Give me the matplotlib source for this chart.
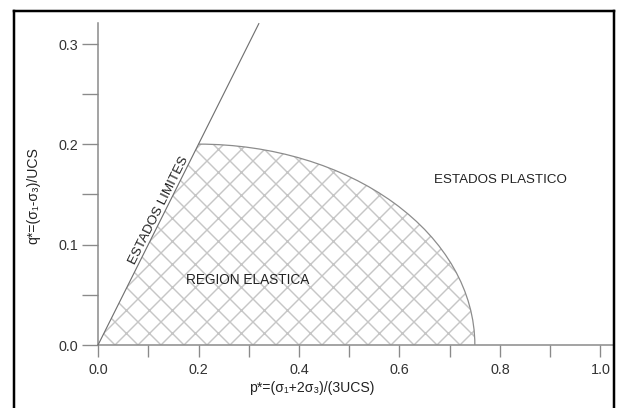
import numpy as np
import matplotlib
matplotlib.use("Agg")
import matplotlib.pyplot as plt
from matplotlib.path import Path
from matplotlib.patches import PathPatch, Arc
from matplotlib.lines import Line2D
from matplotlib.transforms import Affine2D

plt.rcParams['font.family'] = ['Liberation Sans', 'DejaVu Sans']
plt.rcParams['hatch.linewidth'] = 0.75

# failure line q* = p*, drawn from the origin up to the top of the plot
limit_p = [0.0, 0.32]
limit_q = [0.0, 0.32]

# elliptical cap of the elastic region (quarter ellipse)
cap_center = (0.2, 0.0)
cap_a = 0.55   # half width along p*
cap_b = 0.2    # half height along q*

x_major = [0.0, 0.2, 0.4, 0.6, 0.8, 1.0]
x_minor = [0.1, 0.3, 0.5, 0.7, 0.9]
y_major = [0.0, 0.1, 0.2, 0.3]
y_minor = [0.05, 0.15, 0.25]

DPI = 138
fig = plt.figure(figsize=(619.4 / DPI, 408.4 / DPI), dpi=DPI)
ax = fig.add_axes([98 / 619, 63 / 408, 514.6 / 619, 322 / 408])

ax.set_xlim(0, 1.025)
ax.set_ylim(0, 0.321)

# hatched elastic region: origin -> cap end on p axis -> arc -> back along failure line
arc = Path.arc(0, 90)
arc = arc.transformed(Affine2D().scale(cap_a, cap_b).translate(*cap_center))
verts = [(0.0, 0.0)] + list(arc.vertices) + [(0.0, 0.0)]
codes = [Path.MOVETO, Path.LINETO] + list(arc.codes[1:]) + [Path.CLOSEPOLY]
region = PathPatch(Path(verts, codes), facecolor='none', edgecolor='#c6c6c6',
                   linewidth=0, hatch='xx', zorder=1)
ax.add_patch(region)

ax.add_patch(Arc(cap_center, 2 * cap_a, 2 * cap_b, theta1=0, theta2=90,
                 color='#8c8c8c', linewidth=0.65, zorder=3))
ax.plot(limit_p, limit_q, color='#707070', linewidth=0.6, zorder=3,
        clip_on=False)

for s in ['top', 'right']:
    ax.spines[s].set_visible(False)
for s in ['left', 'bottom']:
    ax.spines[s].set_color('#8a8a8a')
    ax.spines[s].set_linewidth(0.8)

ax.set_xticks(x_major)
ax.set_xticks(x_minor, minor=True)
ax.set_yticks(y_major)
ax.set_yticks(y_minor, minor=True)
ax.set_xticklabels(['%.1f' % v for v in x_major])
ax.set_yticklabels(['%.1f' % v for v in y_major])
ax.tick_params(axis='x', which='both', length=6.1, width=0.7, color='#8a8a8a',
               pad=3, labelsize=7.5, labelcolor='#333333')
ax.tick_params(axis='y', which='both', length=8.3, width=0.7, color='#8a8a8a',
               pad=2, labelsize=7.5, labelcolor='#333333')

ax.set_xlabel('p*=(σ₁+2σ₃)/(3UCS)', fontsize=7.3, color='#222222')
ax.xaxis.set_label_coords(0.414, -0.11)
ax.set_ylabel('q*=(σ₁-σ₃)/UCS', fontsize=7.3, color='#222222')
ax.yaxis.set_label_coords(-0.113, 0.465)

ax.text(0.297, 0.065, 'REGION ELASTICA', fontsize=7.1, color='#222222',
        ha='center', va='center')
ax.text(0.80, 0.165, 'ESTADOS PLASTICO', fontsize=7.0, color='#222222',
        ha='center', va='center')

# label running along the failure line
fig.canvas.draw()
p0 = ax.transData.transform((limit_p[0], limit_q[0]))
p1 = ax.transData.transform((limit_p[1], limit_q[1]))
ang = np.degrees(np.arctan2(p1[1] - p0[1], p1[0] - p0[0]))
ax.text(0.132, 0.132, 'ESTADOS LIMITES', fontsize=7.0, color='#222222',
        rotation=ang, rotation_mode='anchor', ha='center', va='bottom')

# outer frame
fx0, fx1 = 13.7 / 619, 613.3 / 619
fy1 = 1 - 11 / 408
for xs, ys in [([fx0, fx0], [-0.05, fy1]), ([fx0, fx1], [fy1, fy1]),
               ([fx1, fx1], [fy1, -0.05])]:
    fig.add_artist(Line2D(xs, ys, color='black', linewidth=1.3,
                          transform=fig.transFigure, solid_capstyle='projecting'))

fig.savefig('out.png', dpi=DPI)
